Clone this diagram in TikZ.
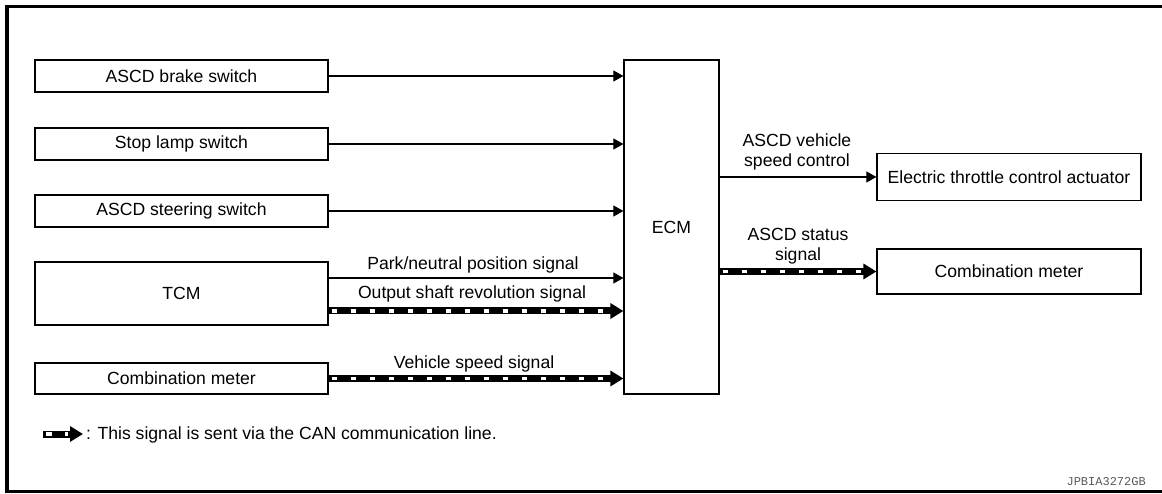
\documentclass[tikz,border=0pt]{standalone}
\usepackage{fontspec}
\setmainfont{Liberation Sans}
\setmonofont{Liberation Mono}
\usetikzlibrary{arrows.meta}
\begin{document}
\begin{tikzpicture}[x=1pt,y=-1pt,
  box/.style={draw, line width=1.2pt, inner sep=0pt, font=\fontsize{17.6}{20}\selectfont},
  lbl/.style={font=\fontsize{17.6}{19.5}\selectfont, inner sep=0pt, align=center},
  sig/.style={line width=1.1pt, -{Triangle[length=10pt,width=11pt]}},
  can/.style={line width=7pt, -{Triangle[length=13pt,width=15pt]},
    postaction={draw=white, line width=3.6pt, -, dash pattern=on 5.5pt off 13.5pt, dash phase=16pt, shorten >=15pt}}]
\useasboundingbox (0,0) rectangle (1162,494);
% frame
\draw[line width=3.5pt, line join=miter] (1165,6.5) -- (7,6.5) -- (7,491.5) -- (1165,491.5);
% left boxes
\node[box, minimum width=293pt, minimum height=32pt] (brake) at (181.5,76) {ASCD brake switch};
\node[box, minimum width=293pt, minimum height=32pt] (stop) at (181.5,144) {Stop lamp switch};
\node[box, minimum width=293pt, minimum height=32pt] (steer) at (181.5,211) {ASCD steering switch};
\node[box, minimum width=293pt, minimum height=63pt] (tcm) at (181.5,293.5) {TCM};
\node[box, minimum width=293pt, minimum height=31pt] (cmin) at (181.5,378.5) {Combination meter};
% ECM
\node[box, minimum width=95pt, minimum height=334pt] (ecm) at (671.5,227) {ECM};
% right boxes
\node[box, minimum width=264pt, minimum height=47pt] (etc) at (1009,177) {Electric throttle control actuator};
\node[box, minimum width=264pt, minimum height=45pt] (cmout) at (1009,271.5) {Combination meter};
% connectors
\draw[sig] (brake.east) -- (brake.east -| ecm.west);
\draw[sig] (stop.east) -- (stop.east -| ecm.west);
\draw[sig] (steer.east) -- (steer.east -| ecm.west);
\draw[sig] ([yshift=15.5pt]tcm.east) -- ([yshift=15.5pt]tcm.east -| ecm.west);
\draw[can] ([yshift=-17.5pt]tcm.east) -- ([yshift=-17.5pt]tcm.east -| ecm.west);
\draw[can] (cmin.east) -- (cmin.east -| ecm.west);
\draw[sig] (etc.west -| ecm.east) -- (etc.west);
\draw[can] (cmout.west -| ecm.east) -- (cmout.west);
% labels
\node[lbl] (l1) at (473,265) {Park/neutral position signal};
\node[lbl] (l2) at (472,294) {Output shaft revolution signal};
\node[lbl] (l3) at (474,364) {Vehicle speed signal};
\node[lbl] (l4) at (797,152) {ASCD vehicle\\speed control};
\node[lbl] (l5) at (798,246) {ASCD status\\signal};
% legend
\coordinate (lg1) at (43,434);
\coordinate (lg2) at (83,434);
\draw[can] (lg1) -- (lg2);
\node[lbl, anchor=west] (lgt) at (86,434.5) {: This signal is sent via the CAN communication line.};
\node[inner sep=0pt, anchor=east, text=black!65, font=\ttfamily\fontsize{12}{12}\selectfont] (code) at (1146,482) {JPBIA3272GB};
\end{tikzpicture}
\end{document}
